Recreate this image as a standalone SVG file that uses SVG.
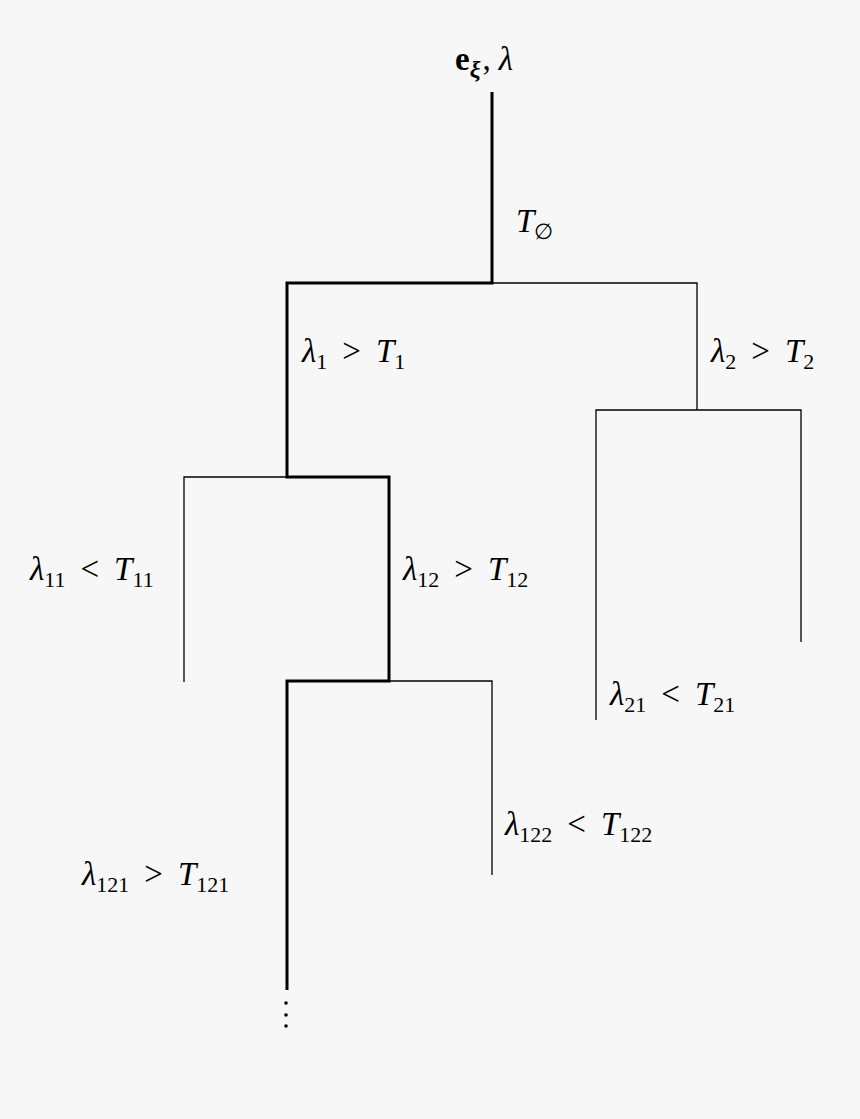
<svg xmlns="http://www.w3.org/2000/svg" width="860" height="1119" viewBox="0 0 860 1119">
<style>
.t{stroke:#000;stroke-width:1.3;fill:none}
.k{stroke:#000;stroke-width:3;fill:none}
text{font-family:"Liberation Serif","DejaVu Serif",serif;font-size:33px;fill:#000}
.i{font-style:italic}
.s{font-size:22px}
</style>
<rect width="860" height="1119" fill="#f7f7f7"/>
<g id="connectors">
<path class="k" d="M492 92V283H287V477H389V681H287V990"/>
<path class="t" d="M492 283H697V410M596 720V410H801V642M287 477H184V682M389 681H492V875"/>
<circle cx="286" cy="1003" r="1.8"/><circle cx="286" cy="1015" r="1.8"/><circle cx="286" cy="1026" r="1.8"/>
</g>
<g id="root"><text x="455" y="70" font-size="36"><tspan font-weight="bold">e</tspan><tspan font-weight="bold" class="i" font-size="24" dy="7">ξ</tspan><tspan dy="-7" dx="2">,</tspan><tspan class="i" dx="8">λ</tspan></text></g>
<g id="n0"><text x="516" y="232" class="i">T<tspan class="s" dy="7" font-style="normal">∅</tspan></text></g>
<g id="n1"><text x="302" y="362"><tspan class="i">λ</tspan><tspan class="s" dy="7">1</tspan><tspan dy="-7" dx="15">&gt;</tspan><tspan class="i" dx="15">T</tspan><tspan class="s" dy="7">1</tspan></text></g>
<g id="n2"><text x="711" y="362"><tspan class="i">λ</tspan><tspan class="s" dy="7">2</tspan><tspan dy="-7" dx="15">&gt;</tspan><tspan class="i" dx="15">T</tspan><tspan class="s" dy="7">2</tspan></text></g>
<g id="n11"><text x="30" y="580"><tspan class="i">λ</tspan><tspan class="s" dy="7">11</tspan><tspan dy="-7" dx="15">&lt;</tspan><tspan class="i" dx="15">T</tspan><tspan class="s" dy="7">11</tspan></text></g>
<g id="n12"><text x="403" y="580"><tspan class="i">λ</tspan><tspan class="s" dy="7">12</tspan><tspan dy="-7" dx="15">&gt;</tspan><tspan class="i" dx="15">T</tspan><tspan class="s" dy="7">12</tspan></text></g>
<g id="n21"><text x="610" y="705"><tspan class="i">λ</tspan><tspan class="s" dy="7">21</tspan><tspan dy="-7" dx="15">&lt;</tspan><tspan class="i" dx="15">T</tspan><tspan class="s" dy="7">21</tspan></text></g>
<g id="n122"><text x="505" y="835"><tspan class="i">λ</tspan><tspan class="s" dy="7">122</tspan><tspan dy="-7" dx="15">&lt;</tspan><tspan class="i" dx="15">T</tspan><tspan class="s" dy="7">122</tspan></text></g>
<g id="n121"><text x="82" y="885"><tspan class="i">λ</tspan><tspan class="s" dy="7">121</tspan><tspan dy="-7" dx="15">&gt;</tspan><tspan class="i" dx="15">T</tspan><tspan class="s" dy="7">121</tspan></text></g>
</svg>
